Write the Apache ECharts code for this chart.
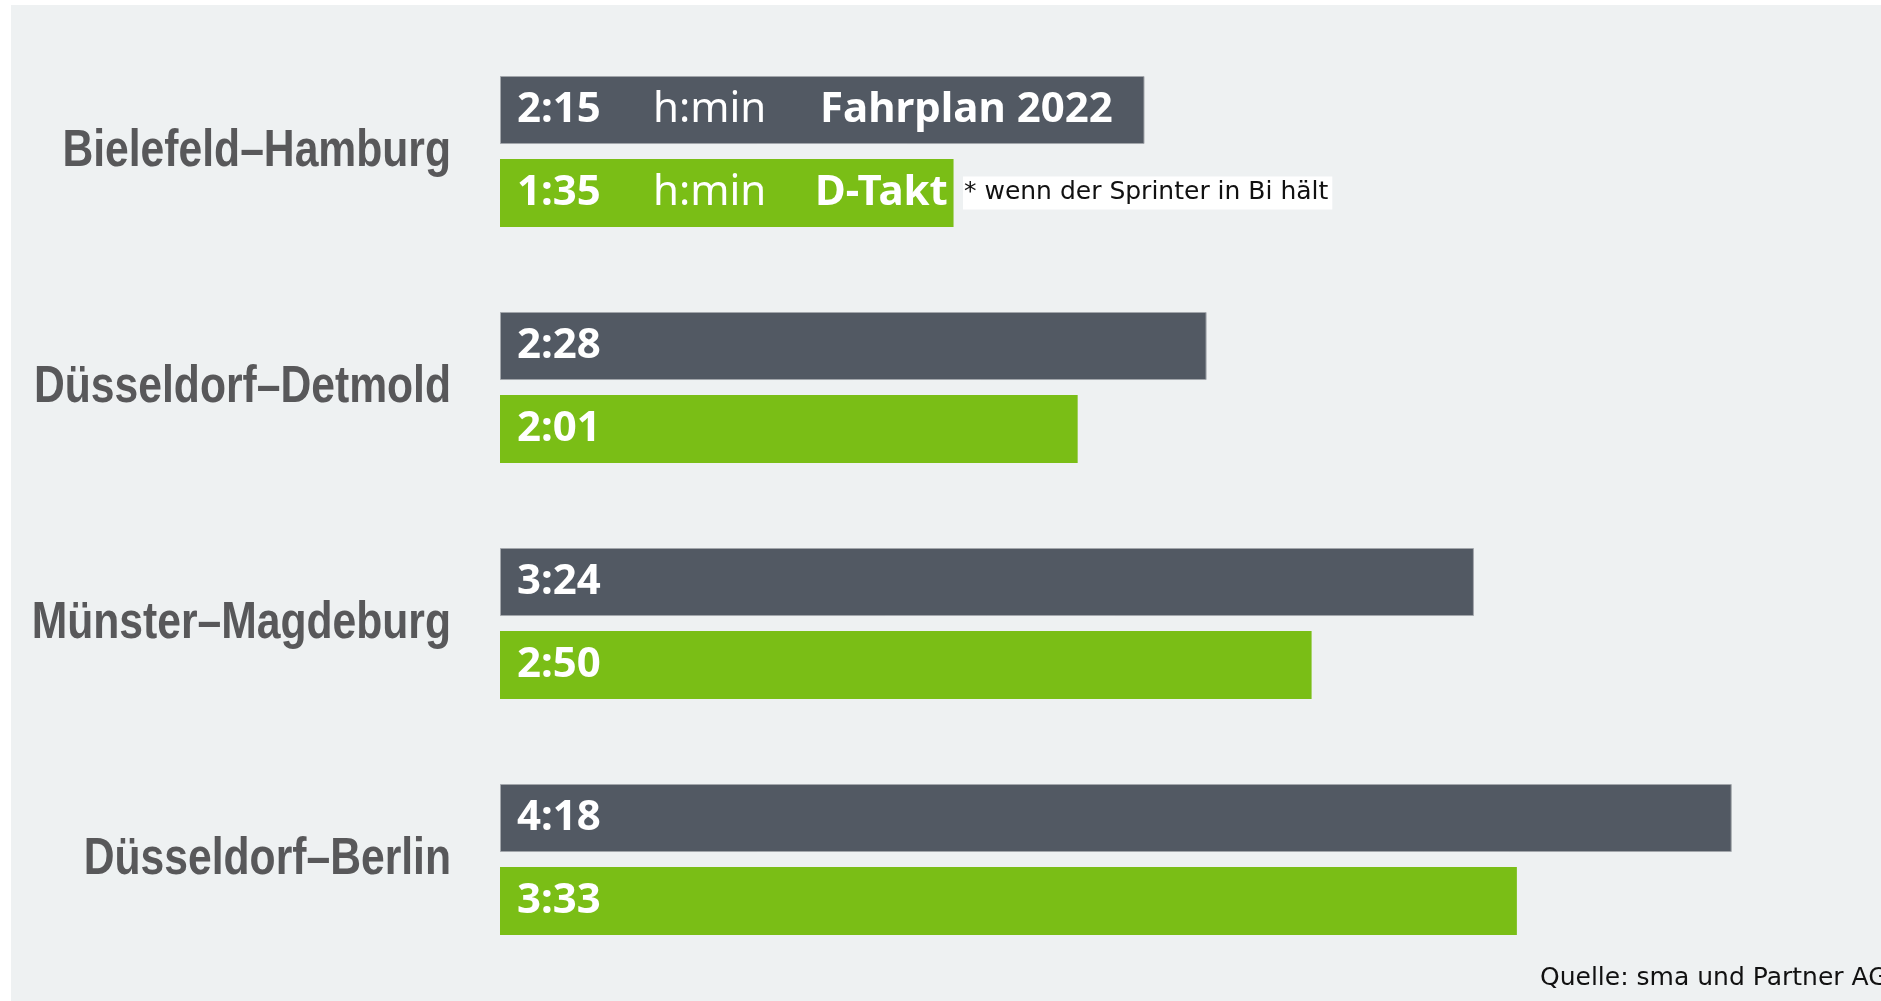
<!DOCTYPE html>
<html>
<head>
<meta charset="utf-8">
<title>Fahrzeiten Fahrplan 2022 / D-Takt</title>
<script src="https://cdn.jsdelivr.net/npm/echarts@6/dist/echarts.min.js"></script>
<style>
  html, body { margin: 0; padding: 0; background: #fff; }
  #chart { width: 1881px; height: 1001px; }
</style>
</head>
<body>
<div id="chart"></div>
<script>
// Strecken (von oben nach unten)
var routes = ['Bielefeld–Hamburg', 'Düsseldorf–Detmold', 'Münster–Magdeburg', 'Düsseldorf–Berlin'];
// Fahrzeit in Minuten
var fahrplan2022 = [135, 148, 204, 258];   // 2:15, 2:28, 3:24, 4:18
var dTakt = [95, 121, 170, 213];           // 1:35, 2:01, 2:50, 3:33
var seriesNames = ['Fahrplan 2022', 'D-Takt'];
var unitText = 'h:min';
var footnote = '* wenn der Sprinter in Bi hält';
var source = 'Quelle: sma und Partner AG';

function hmin(m) {
  var h = Math.floor(m / 60), r = m % 60;
  return h + ':' + (r < 10 ? '0' + r : r);
}

var richBase = {
  v: { color: '#fff', fontFamily: 'Noto Sans', fontWeight: 'bold', fontSize: 42, width: 136 },
  u: { color: '#fff', fontFamily: 'Noto Sans', fontWeight: 'normal', fontSize: 42 },
  t: { color: '#fff', fontFamily: 'Noto Sans', fontWeight: 'bold', fontSize: 42 },
  n: {
    color: '#111', fontFamily: 'DejaVu Sans', fontSize: 25, backgroundColor: '#fff',
    padding: [4, 4, 4, 1], lineHeight: 25
  }
};

var chart = echarts.init(document.getElementById('chart'));

var option = {
  animation: false,
  backgroundColor: '#fff',
  graphic: [
    {
      id: 'bg', type: 'rect', z: -10, silent: true,
      shape: { x: 11, y: 5, width: 1881, height: 1001 },
      style: { fill: '#EEF1F2' }
    },
    {
      id: 'source', type: 'text', left: 1540, top: 966, z: 10,
      style: { text: source, fill: '#111', font: '25px "DejaVu Sans"' }
    }
  ],
  grid: { left: 500, right: 92, top: 33.5, bottom: 23.5, containLabel: false, outerBoundsMode: 'none' },
  xAxis: { type: 'value', min: 0, max: 270, show: false },
  yAxis: {
    type: 'category',
    data: routes,
    inverse: true,
    axisLine: { show: false },
    axisTick: { show: false },
    splitLine: { show: false },
    // labels drawn below as condensed text (no narrow font installed)
    axisLabel: { show: false }
  },
  series: [
    {
      name: seriesNames[0],
      type: 'bar',
      data: fahrplan2022,
      barWidth: 68,
      barGap: '22%',
      itemStyle: { color: '#525963', borderColor: '#a3a7ac', borderWidth: 1 },
      label: {
        show: true,
        position: 'insideLeft',
        distance: 17,
        formatter: function (p) {
          if (p.dataIndex === 0) {
            return '{v|' + hmin(p.value) + '}{u|' + unitText + '}{t|' + seriesNames[0] + '}';
          }
          return '{v|' + hmin(p.value) + '}';
        },
        rich: {
          v: richBase.v,
          u: Object.assign({}, richBase.u, { width: 167 }),
          t: richBase.t
        }
      }
    },
    {
      name: seriesNames[1],
      type: 'bar',
      data: dTakt,
      barWidth: 68,
      itemStyle: { color: '#7ABE16' },
      label: {
        show: true,
        position: 'insideLeft',
        distance: 17,
        formatter: function (p) {
          if (p.dataIndex === 0) {
            return '{v|' + hmin(p.value) + '}{u|' + unitText + '}{t|' + seriesNames[1] + '}{n|' + footnote + '}';
          }
          return '{v|' + hmin(p.value) + '}';
        },
        rich: {
          v: richBase.v,
          u: Object.assign({}, richBase.u, { width: 162 }),
          t: Object.assign({}, richBase.t, { width: 148 }),
          n: richBase.n
        }
      }
    }
  ]
};

chart.setOption(option);

// category labels: position from the y axis, squeezed horizontally
var labelX = 500 - 49;
var catLabels = routes.map(function (name, i) {
  var y = chart.convertToPixel({ yAxisIndex: 0 }, name);
  return {
    id: 'cat' + i,
    type: 'text',
    x: labelX,
    y: y,
    scaleX: 0.82,
    silent: true,
    style: {
      text: name,
      fill: '#58585a',
      font: 'bold 52px "Liberation Sans", Arial, sans-serif',
      textAlign: 'right',
      textVerticalAlign: 'middle'
    }
  };
});
chart.setOption({ graphic: catLabels });
</script>
</body>
</html>
